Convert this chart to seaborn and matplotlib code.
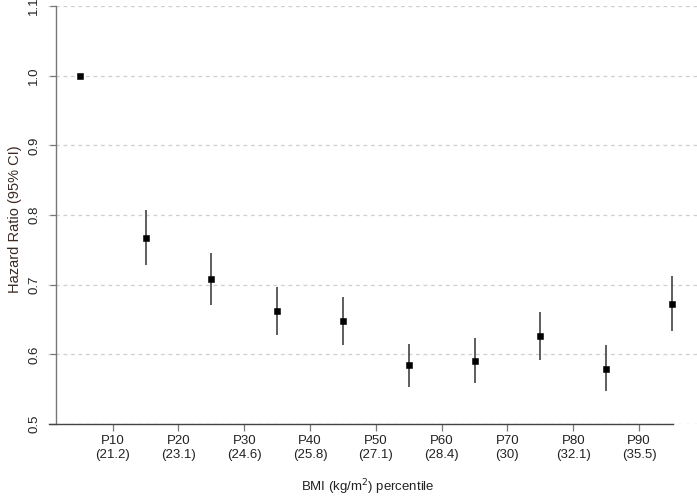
import matplotlib
matplotlib.use("Agg")
import matplotlib.pyplot as plt
import seaborn as sns
import pandas as pd

# ---- data ----
groups = ["<P10", "P10-P20", "P20-P30", "P30-P40", "P40-P50",
          "P50-P60", "P60-P70", "P70-P80", "P80-P90", ">P90"]
hr = [1.000, 0.767, 0.708, 0.662, 0.648, 0.584, 0.591, 0.626, 0.579, 0.672]
ci_low = [1.000, 0.728, 0.671, 0.628, 0.614, 0.553, 0.559, 0.592, 0.547, 0.634]
ci_high = [1.000, 0.807, 0.745, 0.697, 0.682, 0.615, 0.623, 0.661, 0.613, 0.713]
tick_labels = ["P10\n(21.2)", "P20\n(23.1)", "P30\n(24.6)", "P40\n(25.8)", "P50\n(27.1)",
               "P60\n(28.4)", "P70\n(30)", "P80\n(32.1)", "P90\n(35.5)"]
y_ticks = [0.5, 0.6, 0.7, 0.8, 0.9, 1.0, 1.1]

df = pd.DataFrame({"group": groups, "pos": range(len(groups)), "hr": hr,
                   "lo": ci_low, "hi": ci_high})

sns.set_style("white")
plt.rcParams["font.family"] = ["Liberation Sans", "DejaVu Sans"]

W, H = 697, 497
fig = plt.figure(figsize=(W / 100, H / 100), dpi=100)
ax = fig.add_axes([48 / W, 73 / H, (W - 48) / W, 418 / H])

# grid
for yv in y_ticks:
    ax.axhline(yv, color="#cfcfcf", lw=0.9, ls=(0, (3, 3)), zorder=0)

# CIs
ax.vlines(df["pos"], df["lo"], df["hi"], color="#333333", lw=1.1, zorder=2)
# points
sns.scatterplot(data=df, x="pos", y="hr", marker="s", s=20, color="black",
                edgecolor="black", linewidth=0.4, ax=ax, zorder=3, legend=False)

ax.set_xlim(-0.482, 9.381)
ax.set_ylim(0.5, 1.1)

for s in ["top", "right"]:
    ax.spines[s].set_visible(False)
ax.spines["left"].set_position(("data", -0.36))
ax.spines["left"].set_bounds(0.5, 1.1)
ax.spines["left"].set_color("#777777")
ax.spines["bottom"].set_bounds(-0.467, 9.02)
ax.spines["bottom"].set_color("#444444")
ax.spines["left"].set_linewidth(1.0)
ax.spines["bottom"].set_linewidth(1.0)

ax.set_yticks(y_ticks)
ax.set_yticklabels([f"{v:.1f}" for v in y_ticks], rotation=90, va="center")
ax.set_xticks([i + 0.5 for i in range(len(tick_labels))])
ax.set_xticklabels(tick_labels, linespacing=1.25)

ax.tick_params(axis="y", direction="out", length=4.3, width=0.9, color="#777777",
               pad=7, labelsize=9.5, labelcolor="#222222", left=True)
ax.tick_params(axis="x", direction="out", length=4.7, width=0.9, color="#777777",
               pad=3, labelsize=9.5, labelcolor="#222222", bottom=True)

ax.set_xlabel("BMI (kg/m$^2$) percentile", fontsize=9.5, color="#222222")
ax.set_ylabel("Hazard Ratio (95% CI)", fontsize=10.5, color="#3a2a22")
ax.xaxis.set_label_coords((368 - 48) / (W - 48), -(477 - 424) / 418)
ax.yaxis.set_label_coords(-(48 - 22) / (W - 48), 0.49)

fig.savefig("out.png", dpi=100)
